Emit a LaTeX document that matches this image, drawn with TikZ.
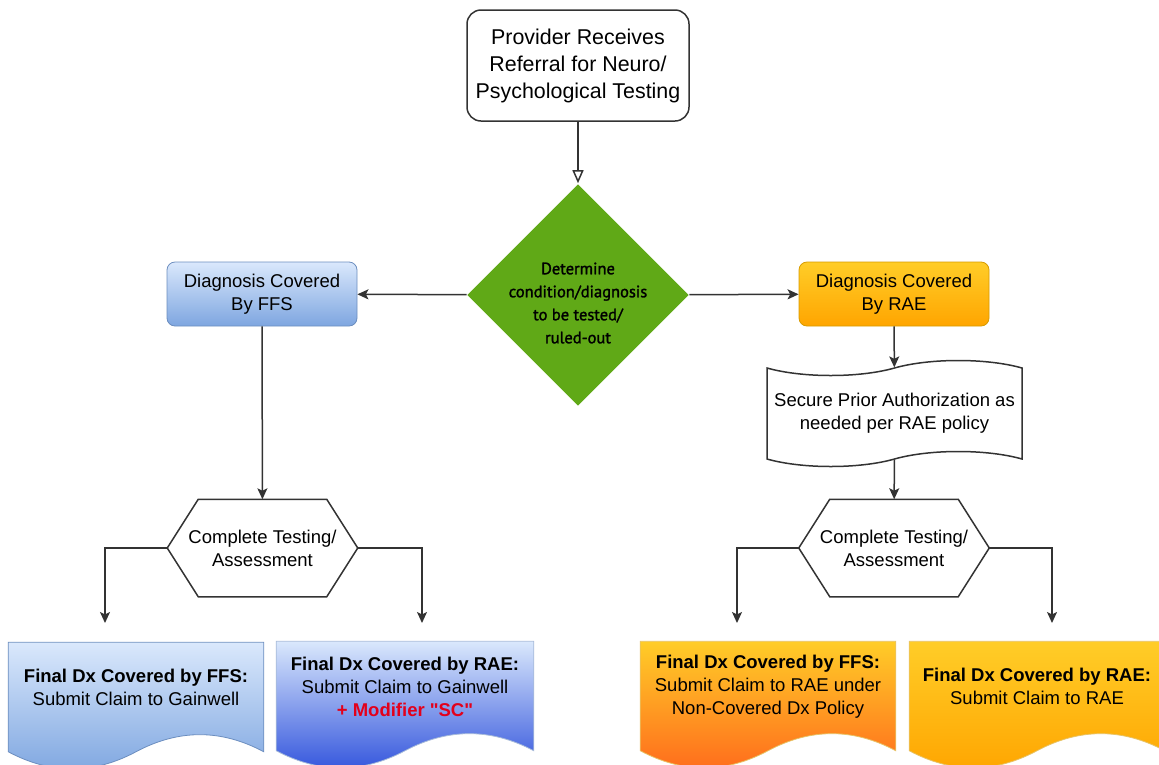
\documentclass[tikz,border=0pt]{standalone}
\usepackage{fontspec}
\setmainfont{Liberation Sans}
\newfontfamily\condfont{PT Sans}[FakeBold=1.6]
\newfontfamily\plainquotes{Liberation Sans}
\usetikzlibrary{arrows.meta, calc, shapes.geometric, shapes.symbols, backgrounds}

\definecolor{linegray}{HTML}{333333}
\definecolor{ffsTop}{HTML}{DAE8FC}
\definecolor{ffsBottom}{HTML}{7EA6E0}
\definecolor{ffsLine}{HTML}{6C8EBF}
\definecolor{raeTop}{HTML}{FFCD28}
\definecolor{raeBottom}{HTML}{FFA500}
\definecolor{raeLine}{HTML}{D79B00}
\definecolor{deepBlue}{HTML}{3052DC}
\definecolor{deepOrange}{HTML}{FF6A1C}
\definecolor{decGreen}{HTML}{60A917}
\definecolor{modRed}{HTML}{E3001B}

\newcommand\bodyfont{\fontsize{18.5}{23}\selectfont}

% hexagon outline around a plain node
\newcommand\hexoutline[1]{%
  \draw (#1.west) -- ([xshift=31pt]#1.north west) -- ([xshift=-31pt]#1.north east)
    -- (#1.east) -- ([xshift=-31pt]#1.south east) -- ([xshift=31pt]#1.south west) -- cycle;}

% document shape (wavy bottom) behind a text node
\newcommand\docshape[2]{%
  \begin{scope}[on background layer]
    \path[#2] (#1.north west) -- (#1.north east) -- ([yshift=-19pt]#1.south east)
      .. controls ([yshift=3.8pt]$(#1.south west)!0.8333!(#1.south east)$)
         and ([yshift=3.8pt]$(#1.south west)!0.6667!(#1.south east)$) .. ([yshift=-19pt]#1.south)
      .. controls ([yshift=-41.8pt]$(#1.south west)!0.3333!(#1.south east)$)
         and ([yshift=-41.8pt]$(#1.south west)!0.1667!(#1.south east)$) .. ([yshift=-19pt]#1.south west)
      -- cycle;
  \end{scope}}

\tikzset{
  every node/.style={align=center, text=black},
  startbox/.style={draw=linegray, rounded corners=14pt, minimum width=222pt, minimum height=111pt,
    inner sep=0pt, font=\fontsize{21.4}{27}\selectfont},
  decision/.style={diamond, aspect=1, fill=decGreen, minimum width=222pt, minimum height=222pt, inner sep=0pt},
  ffsbox/.style={draw=ffsLine, line width=0.8pt, top color=ffsTop, bottom color=ffsBottom, rounded corners=8pt,
    minimum width=190pt, minimum height=64pt, inner sep=0pt, font=\bodyfont},
  raebox/.style={ffsbox, draw=raeLine, top color=raeTop, bottom color=raeBottom},
  authbox/.style={tape, draw=linegray, tape bend height=15pt, minimum width=255pt, minimum height=106pt,
    inner sep=0pt, font=\bodyfont},
  hexbox/.style={minimum width=189pt, minimum height=96pt, inner sep=0pt, font=\bodyfont},
  docbox/.style={minimum height=89pt, inner sep=0pt, font=\bodyfont},
  opentip/.style={-{Triangle[open, length=13pt, width=11pt]}}
}

\begin{document}
\begin{tikzpicture}[x=1pt, y=-1pt, line width=1.5pt, draw=linegray, >={Stealth[length=11pt, width=10pt, inset=2.5pt]}]
  \useasboundingbox (0,0) rectangle (1159,764);

  \node[startbox] (start) at (578,65.5) {Provider Receives\\Referral for Neuro/\\Psychological Testing};
  \node[decision, label={[yshift=-8pt, align=center, font=\condfont\fontsize{16.5}{23}\selectfont]center:Determine\\condition/diagnosis\\to be tested/\\ruled-out}] (det) at (578,295) {};
  \node[ffsbox] (ffs) at (262,294) {Diagnosis Covered\\By FFS};
  \node[raebox] (rae) at (894,294) {Diagnosis Covered\\By RAE};
  \node[authbox] (auth) at (894.5,413.5) {Secure Prior Authorization as\\needed per RAE policy};

  \node[hexbox] (hexL) at (262.5,548) {Complete Testing/\\Assessment};
  \node[hexbox] (hexR) at (894,548) {Complete Testing/\\Assessment};
  \hexoutline{hexL}
  \hexoutline{hexR}

  \node[docbox, minimum width=254pt] (docA) at (136,687.5) {\textbf{Final Dx Covered by FFS:}\\Submit Claim to Gainwell};
  \node[docbox, minimum width=256pt] (docB) at (405,686.5) {\textbf{Final Dx Covered by RAE:}\\Submit Claim to Gainwell\\{\plainquotes\color{modRed}\bfseries + Modifier "SC"}};
  \node[docbox, minimum width=254pt] (docC) at (768,686.5) {\textbf{Final Dx Covered by FFS:}\\Submit Claim to RAE under\\Non-Covered Dx Policy};
  \node[docbox, minimum width=254pt] (docD) at (1037,686.5) {\textbf{Final Dx Covered by RAE:}\\Submit Claim to RAE};
  \docshape{docA}{draw=ffsLine, line width=0.8pt, top color=ffsTop, bottom color=ffsBottom}
  \docshape{docB}{draw=ffsLine!60, line width=0.8pt, top color=ffsTop, bottom color=deepBlue}
  \docshape{docC}{draw=raeLine!60, line width=0.8pt, top color=raeTop, bottom color=deepOrange}
  \docshape{docD}{draw=raeLine!60, line width=0.8pt, top color=raeTop, bottom color=raeBottom}

  \coordinate (endA) at (105,623);
  \coordinate (endB) at (422,623);
  \coordinate (endC) at (737,623);
  \coordinate (endD) at (1052,623);

  \draw[opentip] (start) -- (det);
  \draw[->] (det) -- (ffs);
  \draw[->] (det) -- (rae);
  \draw[->] (ffs) -- (hexL);
  \draw[->] (rae) -- (auth);
  \draw[->] (auth) -- (hexR);
  \draw[->] (hexL.west) -| (endA);
  \draw[->] (hexL.east) -| (endB);
  \draw[->] (hexR.west) -| (endC);
  \draw[->] (hexR.east) -| (endD);
\end{tikzpicture}
\end{document}
